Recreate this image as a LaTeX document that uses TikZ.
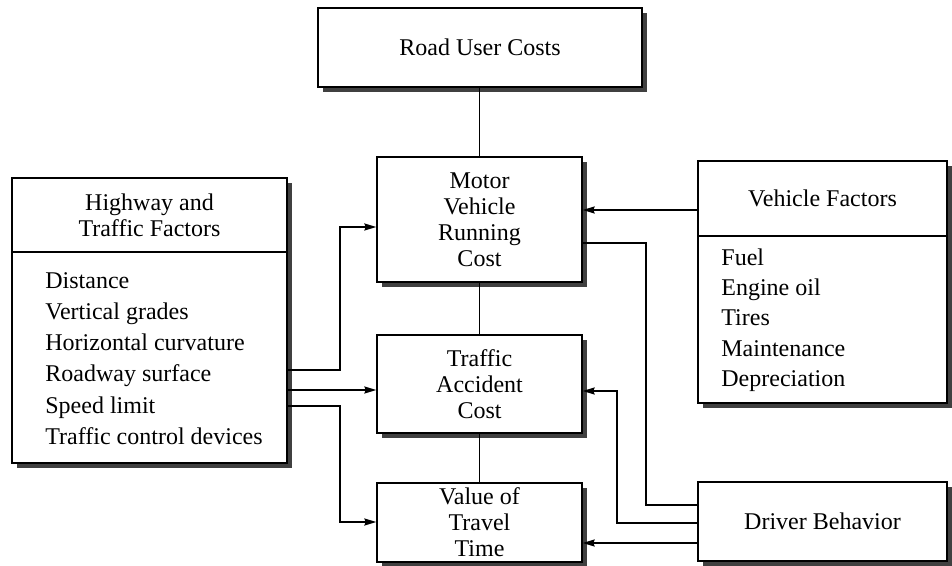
\documentclass[tikz,border=0pt]{standalone}
\usepackage{fontspec}
\setmainfont{Liberation Serif}
\usetikzlibrary{arrows.meta, calc, shadows}
\tikzset{%
    blk/.style={rectangle, draw, line width=0.8pt, fill=white, align=center, inner sep=2pt,
        font=\fontsize{12}{13}\selectfont,
        drop shadow={shadow xshift=2.5pt, shadow yshift=-2.5pt, fill=black!75, opacity=1}},
    hdr/.style={align=center, inner sep=0pt, font=\fontsize{12}{13}\selectfont},
    lst/.style={anchor=north west, align=left, inner sep=0pt, font=\fontsize{12}{15.6}\selectfont},
    sec/.style={line width=0.6pt},
    seca/.style={line width=0.6pt, -{Stealth[length=6pt, width=3.6pt, inset=0.8pt]}},
}

\begin{document}
\begin{tikzpicture}[x=0.5pt, y=-0.5pt]
    \useasboundingbox (0,0) rectangle (952,566);
    % cost boxes
    \node [blk, minimum width=162pt, minimum height=39.5pt] (ruc) at (480,47.5) {Road User Costs};
    \node [blk, minimum width=102.5pt, minimum height=62.5pt] (mv) at (479.5,219.5) {Motor\\Vehicle\\Running\\Cost};
    \node [blk, minimum width=102.5pt, minimum height=49pt] (tac) at (479.5,384) {Traffic\\Accident\\Cost};
    \node [blk, minimum width=102.5pt, minimum height=39.5pt] (vtt) at (479.5,522.5) {Value of\\Travel\\Time};
    % factor boxes
    \node [blk, minimum width=137.5pt, minimum height=142.5pt] (hw) at (149.5,320.5) {};
    \node [hdr] (hwh) at (149.5,215) {Highway and\\Traffic Factors};
    \draw [line width=0.8pt] (hw.west |- 0,252) -- (hw.east |- 0,252);
    \node [lst] (hwl) at (45,272) {Distance\\Vertical grades\\Horizontal curvature\\Roadway surface\\Speed limit\\Traffic control devices};
    \node [blk, minimum width=124.5pt, minimum height=121pt] (vf) at (822.5,282) {};
    \node [hdr] (vfh) at (822.5,198.5) {Vehicle Factors};
    \draw [line width=0.8pt] (vf.west |- 0,236) -- (vf.east |- 0,236);
    \node [lst, font=\fontsize{12}{15.2}\selectfont] (vfl) at (721,248) {Fuel\\Engine oil\\Tires\\Maintenance\\Depreciation};
    \node [blk, minimum width=124.5pt, minimum height=39.5pt] (dr) at (822.5,521.5) {Driver Behavior};
    % connectors
    \draw [sec] (ruc.south -| mv.north) -- (mv.north);
    \draw [sec] (mv.south) -- (tac.north);
    \draw [sec] (tac.south) -- (vtt.north);
    \draw [seca] (hw.east |- 0,370) -| (340,227) -- (mv.west |- 0,227);
    \draw [seca] (hw.east |- 0,390) -- (tac.west |- 0,390);
    \draw [seca] (hw.east |- 0,406) -| (340,522) -- (vtt.west |- 0,522);
    \draw [seca] (vf.west |- 0,210) -- (mv.east |- 0,210);
    \draw [sec] (mv.east |- 0,243) -| (646,505) -- (dr.west |- 0,505);
    \draw [seca] (dr.west |- 0,523) -| (617,391) -- (tac.east |- 0,391);
    \draw [seca] (dr.west |- 0,543) -- (vtt.east |- 0,543);
\end{tikzpicture}
\end{document}
